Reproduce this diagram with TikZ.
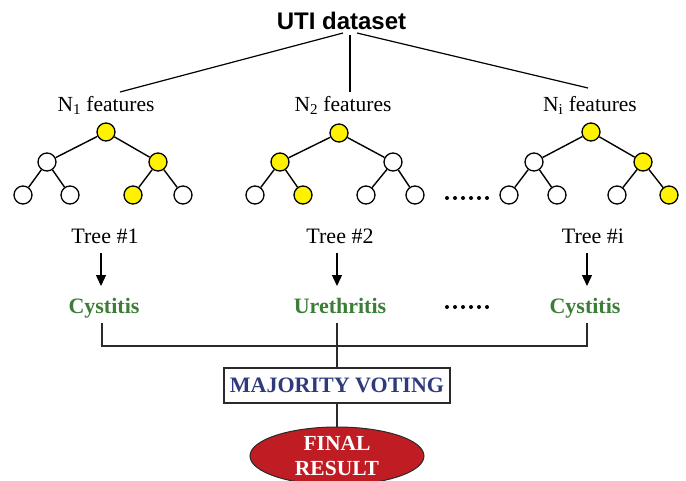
\documentclass[tikz,border=0pt]{standalone}
\usepackage{fontspec}
\setmainfont{Liberation Serif}
\newfontfamily\arialfont{Liberation Sans}
\usetikzlibrary{arrows.meta,shapes.geometric}
\definecolor{vyellow}{HTML}{FFF200}
\definecolor{vgreen}{HTML}{3C7D38}
\definecolor{vblue}{HTML}{2E3A7C}
\definecolor{vred}{HTML}{C01C24}
\definecolor{vgray}{HTML}{2A2A2A}
\begin{document}
\begin{tikzpicture}[x=1pt,y=-1pt,
  wleaf/.style={circle,draw=black,line width=1.3pt,minimum size=18pt,inner sep=0pt,fill=white},
  yleaf/.style={wleaf,fill=vyellow},
  tedge/.style={line width=1.4pt},
  feat/.style={anchor=base,font=\fontsize{21.5}{24}\selectfont},
  treelab/.style={anchor=base,font=\fontsize{22}{24}\selectfont},
  result/.style={anchor=base,font=\fontsize{22}{24}\selectfont\bfseries,text=vgreen},
  gline/.style={draw=vgray,line width=1.3pt},
  arr/.style={line width=1.3pt,-{Triangle[length=11pt,width=10pt]}},
  vdot/.style={circle,fill=black,inner sep=0pt,minimum size=4pt}]
\useasboundingbox (0,0) rectangle (686,480);

% title
\node[anchor=base,font=\fontsize{24}{28}\selectfont\arialfont\bfseries] (uti) at (341.5,29) {UTI dataset};
\coordinate (s1) at (343,33);
\coordinate (s2) at (350,35);
\coordinate (s3) at (357,33);
\coordinate (e1) at (120,92);
\coordinate (e2) at (350,92);
\coordinate (e3) at (588,88);
\draw[line width=1.2pt] (s1) -- (e1);
\draw[line width=1.2pt] (s2) -- (e2);
\draw[line width=1.2pt] (s3) -- (e3);

% features
\node[feat] (f1) at (106,111) {N\textsubscript{1} features};
\node[feat] (f2) at (343,111) {N\textsubscript{2} features};
\node[feat] (f3) at (590,111) {N\textsubscript{i} features};

% tree 1
\node[yleaf] (r1) at (106,132) {};
\node[wleaf] (a1) at (47,162) {};
\node[yleaf] (b1) at (158,162) {};
\node[wleaf] (a1l) at (23,195) {};
\node[wleaf] (a1r) at (70,195) {};
\node[yleaf] (b1l) at (133,195) {};
\node[wleaf] (b1r) at (183,195) {};
\draw[tedge] (r1) -- (a1) (r1) -- (b1) (a1) -- (a1l) (a1) -- (a1r) (b1) -- (b1l) (b1) -- (b1r);

% tree 2
\node[yleaf] (r2) at (339,133) {};
\node[yleaf] (a2) at (280,162) {};
\node[wleaf] (b2) at (393,162) {};
\node[wleaf] (a2l) at (255,195) {};
\node[yleaf] (a2r) at (303,195) {};
\node[wleaf] (b2l) at (366,195) {};
\node[wleaf] (b2r) at (415,195) {};
\draw[tedge] (r2) -- (a2) (r2) -- (b2) (a2) -- (a2l) (a2) -- (a2r) (b2) -- (b2l) (b2) -- (b2r);

% tree i
\node[yleaf] (r3) at (591,132) {};
\node[wleaf] (a3) at (534,162) {};
\node[yleaf] (b3) at (643,162) {};
\node[wleaf] (a3l) at (509,195) {};
\node[wleaf] (a3r) at (557,195) {};
\node[wleaf] (b3l) at (617,195) {};
\node[yleaf] (b3r) at (669,195) {};
\draw[tedge] (r3) -- (a3) (r3) -- (b3) (a3) -- (a3l) (a3) -- (a3r) (b3) -- (b3l) (b3) -- (b3r);

% dots
\foreach \i in {0,...,5} {
  \node[vdot] (dt\i) at (447+8*\i,198) {};
  \node[vdot] (db\i) at (447+8*\i,307) {};
}

% tree labels
\node[treelab] (t1) at (105,243) {Tree \#1};
\node[treelab] (t2) at (340,243) {Tree \#2};
\node[treelab] (t3) at (593,243) {Tree \#i};

\coordinate (p1a) at (101,253); \coordinate (p1b) at (101,286);
\coordinate (p2a) at (337,253); \coordinate (p2b) at (337,286);
\coordinate (p3a) at (587,253); \coordinate (p3b) at (587,286);
\draw[arr] (p1a) -- (p1b);
\draw[arr] (p2a) -- (p2b);
\draw[arr] (p3a) -- (p3b);

% results
\node[result] (c1) at (104,313) {Cystitis};
\node[result] (c2) at (340,313) {Urethritis};
\node[result] (c3) at (585,313) {Cystitis};

% majority voting
\node[draw=vgray,line width=1.2pt,minimum width=226pt,minimum height=35pt,inner sep=0pt,
      font=\fontsize{22}{24}\selectfont\bfseries,text=vblue] (mv) at (337,385.5) {MAJORITY VOTING};

% bracket
\coordinate (q1) at (102,323);
\coordinate (q1b) at (102,346);
\coordinate (q3) at (587,323);
\coordinate (q3b) at (587,346);
\coordinate (q2) at (337,323);
\draw[gline] (q1) -- (q1b) -- (q3b) -- (q3);
\draw[gline] (q2) -- (mv.north);

% final result
\node[ellipse,draw=vgray,line width=1pt,fill=vred,minimum width=174pt,minimum height=58pt,inner sep=0pt,
      text=white,align=center,font=\fontsize{21.5}{25}\selectfont\bfseries] (fr) at (337,456) {FINAL\\RESULT};
\draw[gline] (mv.south) -- (fr.north);
\end{tikzpicture}
\end{document}
